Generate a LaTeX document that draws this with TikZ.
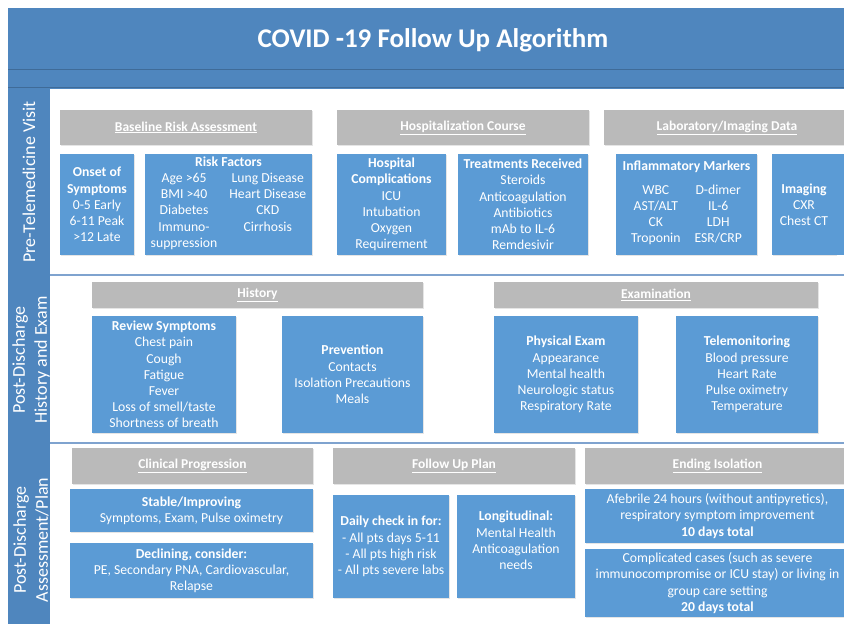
\documentclass[tikz,border=0pt]{standalone}
\usepackage{fontspec}
\setmainfont{Carlito}
\usetikzlibrary{shadows}
\definecolor{frameblue}{HTML}{4F86BE}
\definecolor{boxblue}{HTML}{5B9BD5}
\definecolor{hdrgray}{HTML}{BABABA}
\definecolor{sepblue}{HTML}{7FA3CF}
\tikzset{
  bluebox/.style={fill=boxblue, text=white, align=center, inner sep=0pt,
    font=\fontsize{13.7}{16.2}\selectfont,
    drop shadow={shadow xshift=1pt, shadow yshift=-1pt, opacity=0.2}},
  hdr/.style={fill=hdrgray, text=white, inner sep=0pt,
    font=\fontsize{13.5}{16}\selectfont\bfseries,
    drop shadow={shadow xshift=1pt, shadow yshift=-1pt, opacity=0.2}},
  sidetext/.style={text=white, rotate=90, align=center, inner sep=0pt,
    font=\fontsize{18}{22}\selectfont},
  titletext/.style={text=white, inner sep=0pt, font=\fontsize{27}{32}\selectfont\bfseries},
  panel/.style={fill=white},
  sepline/.style={draw=sepblue, line width=1.2pt}
}
\newcommand{\rbox}[7]{\node[#1, minimum width={(#5-#3)*1pt}, minimum height={(#6-#4)*1pt}] (#2) at ({(#3+#5)/2},{(#4+#6)/2}) {#7};}
\begin{document}
\begin{tikzpicture}[x=1pt,y=-1pt]
\useasboundingbox (0,0) rectangle (844,624);
% frame
\fill[frameblue] (8,8) rectangle (860,640);
\draw[frameblue!80!black, line width=0.6pt] (8,69.5) -- (860,69.5);
\draw[frameblue!80!black, line width=0.4pt] (8,87.5) -- (860,87.5);
% white panels
\fill[panel] (50,88.5) rectangle (860,274);
\fill[panel] (50,276) rectangle (860,442);
\fill[panel] (50,444) rectangle (860,640);
\draw[sepline] (50,275) -- (860,275);
\draw[sepline] (50,443) -- (860,443);
% title
\node[titletext] (title) at (433,40) {COVID -19 Follow Up Algorithm};
% side labels
\node[sidetext] (side1) at (29,182) {Pre-Telemedicine Visit};
\node[sidetext] (side2) at (31,360) {Post-Discharge\\History and Exam};
\node[sidetext] (side3) at (31,540) {Post-Discharge\\Assessment/Plan};
% row 1
\rbox{hdr}{baseline}{60}{110}{312}{145}{\underline{Baseline Risk Assessment}}
\rbox{hdr}{hosp}{337}{110}{589}{145}{\underline{Hospitalization Course}}
\rbox{hdr}{lab}{604}{110}{850}{145}{\underline{Laboratory/Imaging Data}}
\rbox{bluebox}{onset}{60}{154}{134}{255}{\textbf{Onset of}\\\textbf{Symptoms}\\0-5 Early\\6-11 Peak\\>12 Late}
\rbox{bluebox}{risk}{145}{154}{312}{255}{\textbf{Risk Factors}\\
  \begin{tabular}[t]{@{}c@{\hspace{12pt}}c@{}}Age >65 & Lung Disease\\ BMI >40 & Heart Disease\\ Diabetes & CKD\\ Immuno- & Cirrhosis\\ suppression & \end{tabular}}
\rbox{bluebox}{compl}{337}{154}{446}{255}{\textbf{Hospital}\\\textbf{Complications}\\ICU\\Intubation\\Oxygen\\Requirement}
\rbox{bluebox}{treat}{458}{154}{588}{255}{\textbf{Treatments Received}\\Steroids\\Anticoagulation\\Antibiotics\\mAb to IL-6\\Remdesivir}
\rbox{bluebox}{inflam}{616}{154}{757}{255}{\textbf{Inflammatory Markers}\\[7pt]
  \begin{tabular}[t]{@{}c@{\hspace{14pt}}c@{}}WBC & D-dimer\\ AST/ALT & IL-6\\ CK & LDH\\ Troponin & ESR/CRP\end{tabular}}
\rbox{bluebox}{imaging}{772}{154}{836}{255}{\textbf{Imaging}\\CXR\\Chest CT}
\fill[boxblue] (imaging.north east) rectangle ([xshift=20pt]imaging.south east);
% row 2
\rbox{hdr}{history}{92}{282}{423}{308}{\underline{History}}
\rbox{hdr}{exam}{494}{282}{818}{308}{\underline{Examination}}
\rbox{bluebox}{review}{92}{316}{236}{433}{\textbf{Review Symptoms}\\Chest pain\\Cough\\Fatigue\\Fever\\Loss of smell/taste\\Shortness of breath}
\rbox{bluebox}{prev}{282}{316}{423}{433}{\textbf{Prevention}\\Contacts\\Isolation Precautions\\Meals}
\rbox{bluebox}{phys}{494}{316}{638}{433}{\textbf{Physical Exam}\\Appearance\\Mental health\\Neurologic status\\Respiratory Rate}
\rbox{bluebox}{telem}{676}{316}{818}{433}{\textbf{Telemonitoring}\\Blood pressure\\Heart Rate\\Pulse oximetry\\Temperature}
% row 3
\rbox{hdr}{clin}{72}{448}{313}{484}{\underline{Clinical Progression}}
\rbox{hdr}{follow}{333}{448}{575}{484}{\underline{Follow Up Plan}}
\rbox{hdr}{ending}{585}{448}{850}{484}{\underline{Ending Isolation}}
\rbox{bluebox}{stable}{70}{489}{313}{532}{\textbf{Stable/Improving}\\Symptoms, Exam, Pulse oximetry}
\rbox{bluebox}{decl}{70}{543}{313}{598}{\textbf{Declining, consider:}\\PE, Secondary PNA, Cardiovascular,\\Relapse}
\rbox{bluebox}{daily}{333}{495}{449}{598}{\textbf{Daily check in for:}\\- All pts days 5-11\\- All pts high risk\\- All pts severe labs}
\rbox{bluebox}{longi}{457}{495}{575}{598}{\textbf{Longitudinal:}\\Mental Health\\Anticoagulation\\needs\\[-4pt]}
\rbox{bluebox}{afeb}{585}{489}{850}{543}{Afebrile 24 hours (without antipyretics),\\respiratory symptom improvement\\\textbf{10 days total}}
\rbox{bluebox}{compc}{585}{549}{850}{617}{Complicated cases (such as severe\\immunocompromise or ICU stay) or living in\\group care setting\\\textbf{20 days total}}
\end{tikzpicture}
\end{document}
